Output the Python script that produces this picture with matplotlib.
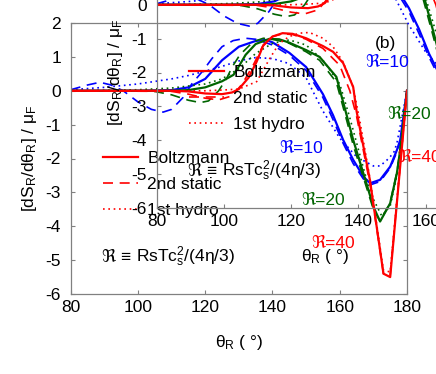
import matplotlib
matplotlib.use("Agg")
import matplotlib.pyplot as plt
from matplotlib.lines import Line2D

plt.rcParams['font.family'] = ['Liberation Sans', 'DejaVu Sans']
plt.rcParams['mathtext.fontset'] = 'custom'
plt.rcParams['mathtext.rm'] = 'Liberation Sans'
plt.rcParams['mathtext.it'] = 'Liberation Sans:italic'
plt.rcParams['axes.unicode_minus'] = False

# ---------------- data ----------------
# R = 10 (blue)
x_b_sol = [80, 100, 110, 115, 120, 125, 130, 135, 138, 140, 145, 150, 155, 158, 161, 164, 167, 169, 172, 175, 177, 178, 180]
y_b_sol = [0, 0, 0.02, 0.1, 0.35, 0.9, 1.3, 1.47, 1.5, 1.43, 1.12, 0.7, -0.1, -0.72, -1.45, -2.04, -2.53, -2.73, -2.63, -2.24, -1.75, -1.45, 0]
x_b_das = [80, 85, 88.7, 92, 95.6, 100, 104, 107.5, 110, 113.4, 116, 119.4, 122, 125, 128.3, 132, 135, 140, 145, 150, 155, 158, 161, 164, 167, 169, 172, 175, 177, 178, 180]
y_b_das = [0.03, 0.17, 0.25, 0.17, 0, -0.33, -0.55, -0.63, -0.55, -0.2, 0.2, 0.6, 0.95, 1.3, 1.48, 1.55, 1.52, 1.35, 1.05, 0.6, -0.2, -0.85, -1.55, -2.15, -2.6, -2.78, -2.68, -2.28, -1.8, -1.5, 0]
x_b_dot = [80, 90, 100, 110, 115, 120, 125, 130, 135, 140, 145, 150, 155, 160, 165, 170, 172, 174, 176, 177, 180]
y_b_dot = [0.03, 0.1, 0.2, 0.35, 0.45, 0.58, 0.72, 0.88, 0.98, 0.95, 0.8, 0.38, -0.6, -1.4, -1.95, -2.22, -2.22, -2.05, -1.84, -1.55, 0]

# R = 20 (green)
x_g_sol = [80, 110, 115, 120, 125, 128.4, 130, 132, 135, 139, 142, 145, 150, 154, 159, 162, 164, 167, 170, 172, 175, 177, 178.4, 180]
y_g_sol = [0, 0, 0.02, 0.1, 0.28, 0.47, 0.72, 1.06, 1.38, 1.53, 1.52, 1.42, 1.2, 1.0, 0.41, -0.7, -1.45, -2.43, -3.42, -3.86, -3.32, -2.43, -1.45, 0]
x_g_das = [80, 100, 105, 110, 115, 118.5, 121, 124, 126.4, 128, 130.3, 134.3, 137.3, 140, 145, 150, 154, 159, 162, 164, 167, 170, 172, 175, 177, 178.4, 180]
y_g_das = [0, 0, -0.02, -0.12, -0.28, -0.35, -0.3, 0.0, 0.37, 0.7, 1.06, 1.45, 1.55, 1.52, 1.4, 1.15, 0.9, 0.25, -0.85, -1.6, -2.55, -3.5, -3.85, -3.3, -2.4, -1.45, 0]
x_g_dot = [80, 100, 110, 120, 125, 130, 135, 140, 145, 150, 155, 160, 163, 166, 169, 172.5, 175, 177, 180]
y_g_dot = [0, 0.03, 0.08, 0.2, 0.35, 0.65, 1.1, 1.4, 1.5, 1.35, 0.9, 0.2, -0.8, -1.9, -3.0, -3.7, -3.4, -2.5, 0]

# R = 40 (red)
x_r_sol = [80, 110, 115, 120, 125, 128, 130, 133, 135.3, 137.3, 140, 143, 146, 150, 155, 158, 161, 164, 165, 169, 173, 175, 180]
y_r_sol = [0, 0, -0.02, -0.08, -0.1, -0.05, 0.05, 0.4, 0.86, 1.35, 1.6, 1.7, 1.68, 1.55, 1.32, 1.15, 0.82, 0.11, -0.6, -2.65, -5.4, -5.5, 0]
x_r_das = [80, 110, 115, 120, 124, 128, 131, 134.3, 137, 140, 143, 146, 150, 155, 160, 163, 165, 169, 173, 175, 180]
y_r_das = [0, -0.02, -0.1, -0.22, -0.27, -0.15, 0.2, 0.76, 1.3, 1.6, 1.68, 1.66, 1.52, 1.25, 0.75, 0.0, -0.75, -2.75, -5.4, -5.45, 0]
x_r_dot = [80, 120, 125, 130, 135.3, 139.3, 142, 145, 148, 151, 155, 158, 161, 164, 166, 169, 173, 175, 180]
y_r_dot = [0, 0, 0.02, 0.05, 0.27, 0.97, 1.4, 1.6, 1.7, 1.72, 1.55, 1.3, 0.85, 0.1, -0.9, -2.6, -5.3, -5.35, 0]

series = [
    (x_b_sol, y_b_sol, 'b', '-'), (x_b_das, y_b_das, 'b', '--'), (x_b_dot, y_b_dot, 'b', ':'),
    (x_g_sol, y_g_sol, 'g', '-'), (x_g_das, y_g_das, 'g', '--'), (x_g_dot, y_g_dot, 'g', ':'),
    (x_r_sol, y_r_sol, 'r', '-'), (x_r_das, y_r_das, 'r', '--'), (x_r_dot, y_r_dot, 'r', ':'),
]
legend_labels = ['Boltzmann', '2nd static', '1st hydro']
curve_labels = [('ℜ=10', 142.1, -1.70, 'b'), ('ℜ=20', 148.6, -3.24, 'g'), ('ℜ=40', 151.4, -4.52, 'r')]
x_ticks = [80, 100, 120, 140, 160, 180]
y_ticks = [-6, -5, -4, -3, -2, -1, 0, 1, 2]

colors = {'b': '#0000ff', 'g': '#006400', 'r': '#ff0000'}
FS = 12.5


def draw(ax):
    for xs, ys, c, ls in series:
        if ls == '-':
            ax.plot(xs, ys, color=colors[c], lw=1.6, ls='-')
        elif ls == '--':
            ax.plot(xs, ys, color=colors[c], lw=1.2, ls=(0, (6, 4)))
        else:
            ax.plot(xs, ys, color=colors[c], lw=1.2, ls=(0, (1, 2.2)))
    ax.set_xlim(80, 180)
    ax.set_ylim(-6, 2)
    ax.set_xticks(x_ticks)
    ax.set_yticks(y_ticks)
    ax.tick_params(direction='in', top=True, right=True, length=3, width=0.8,
                   color='#808080', labelsize=FS)
    ax.tick_params(axis='y', pad=7)
    ax.tick_params(axis='x', pad=4)
    for s in ax.spines.values():
        s.set_color('#808080')
        s.set_linewidth(0.9)
    ax.set_facecolor('none')
    ax.set_xlabel('θ$_\\mathrm{R}$ ( °)', fontsize=FS, labelpad=13)
    ax.set_ylabel('[dS$_\\mathrm{R}$/dθ$_\\mathrm{R}$] / μ$_\\mathrm{F}$', fontsize=FS, labelpad=4.5)
    handles = [Line2D([], [], color='#ff0000', lw=1.6, ls='-'),
               Line2D([], [], color='#ff0000', lw=1.2, ls=(0, (6, 4))),
               Line2D([], [], color='#ff0000', lw=1.2, ls=(0, (1, 2.2)))]
    ax.legend(handles, legend_labels, loc='upper left', bbox_to_anchor=(0.096, 0.527),
              frameon=False, fontsize=FS, handlelength=2.0, handletextpad=0.55,
              labelspacing=0.61, borderpad=0, borderaxespad=0)
    for txt, tx, ty, c in curve_labels:
        ax.text(tx, ty, txt, color=colors[c], fontsize=FS, ha='left', va='center')
    ax.text(170.4, 1.40, '(b)', fontsize=FS, ha='left', va='center')
    t1 = ax.text(89.3, -5.05, 'ℜ ≡ ', fontsize=FS, ha='left', va='baseline')
    ax.annotate('RsTc$_\\mathrm{s}^\\mathrm{2}$/(4η/3)', xy=(1.0, -5.05), xycoords=(t1, 'data'),
                fontsize=FS, ha='left', va='baseline', annotation_clip=False)


fig = plt.figure(figsize=(4.36, 3.74), dpi=100)
W, H = 436.0, 374.0
ax_w = 336.3 / W
ax_h = 271.0 / H
ax_main = fig.add_axes([70.7 / W, (H - 294.0) / H, ax_w, ax_h])
ax_in = fig.add_axes([156.7 / W, (H - 208.0) / H, ax_w, ax_h])
draw(ax_main)
draw(ax_in)
fig.savefig('out.png', dpi=100)
